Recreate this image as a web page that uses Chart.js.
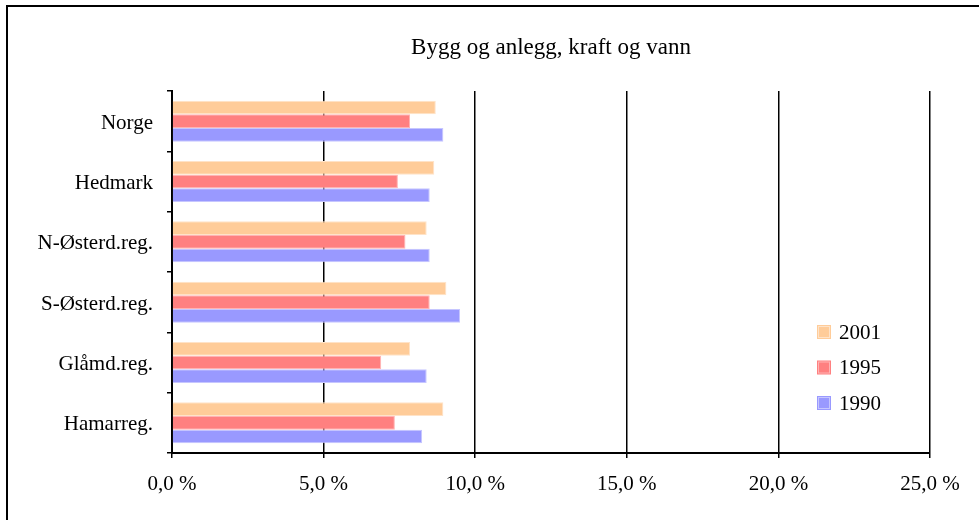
<!DOCTYPE html>
<html>
<head>
<meta charset="utf-8">
<script src="https://cdn.jsdelivr.net/npm/chart.js@4/dist/chart.umd.min.js"></script>
<style>
    html, body { margin: 0; padding: 0; background: #fff; overflow: hidden; }
    #frame {
        position: absolute; left: 6px; top: 5px;
        width: 1100px; height: 700px;
        border: 2px solid #000;
    }
    #chart { position: absolute; left: 0; top: 0; }
</style>
</head>
<body>
<div id="frame"></div>
<canvas id="chart" width="979" height="520"></canvas>
<script>
const title = "Bygg og anlegg, kraft og vann";
const regions = ["Norge", "Hedmark", "N-Østerd.reg.", "S-Østerd.reg.", "Glåmd.reg.", "Hamarreg."];
const values2001 = [8.7, 8.65, 8.4, 9.05, 7.85, 8.95];
const values1995 = [7.85, 7.45, 7.7, 8.5, 6.9, 7.35];
const values1990 = [8.95, 8.5, 8.5, 9.5, 8.4, 8.25];
const xTicks = [0, 5, 10, 15, 20, 25];

const serif = "'Liberation Serif', 'Times New Roman', serif";

const fmtPct = (v) => v.toFixed(1).replace(".", ",") + " %";

// title centred over the plot area, legend drawn inside it on the right
const extras = {
    id: "extras",
    afterDraw(chart) {
        const ctx = chart.ctx;
        const area = chart.chartArea;
        ctx.save();
        ctx.fillStyle = "#000";
        ctx.font = "23px " + serif;
        ctx.textAlign = "center";
        ctx.textBaseline = "middle";
        ctx.fillText(title, (area.left + area.right) / 2, 48);

        const x = 817;
        let y = 332;
        ctx.font = "21px " + serif;
        ctx.textAlign = "left";
        chart.data.datasets.forEach((ds) => {
            ctx.fillStyle = ds.backgroundColor;
            ctx.fillRect(x, y - 7, 14, 14);
            ctx.strokeStyle = ds.borderColor;
            ctx.lineWidth = 1;
            ctx.strokeRect(x + 1.5, y - 5.5, 11, 11);
            ctx.fillStyle = "#000";
            ctx.fillText(ds.label, x + 22, y + 1);
            y += 35.5;
        });
        ctx.restore();
    }
};

const makeSet = (label, data, fill, edge) => ({
    label: label,
    data: data,
    backgroundColor: fill,
    borderColor: edge,
    borderWidth: 1,
    categoryPercentage: 0.68,
    barPercentage: 1.0,
});

const ctx = document.getElementById("chart").getContext("2d");
new Chart(ctx, {
    type: "bar",
    data: {
        labels: regions,
        datasets: [
            makeSet("2001", values2001, "#FFCC99", "#FFE3C8"),
            makeSet("1995", values1995, "#FF8080", "#FFB3B3"),
            makeSet("1990", values1990, "#9999FF", "#C6C6FF"),
        ],
    },
    options: {
        indexAxis: "y",
        responsive: false,
        animation: false,
        layout: { padding: { left: 0, right: 49, top: 91, bottom: 0 } },
        plugins: {
            legend: { display: false },
            tooltip: { enabled: false },
            title: { display: false },
        },
        scales: {
            x: {
                min: 0,
                max: 25,
                afterFit: (scale) => { scale.height = 67; },
                afterBuildTicks: (scale) => { scale.ticks = xTicks.map((v) => ({ value: v })); },
                ticks: {
                    color: "#000",
                    font: { family: serif, size: 21 },
                    padding: 14,
                    maxRotation: 0,
                    callback: (v) => fmtPct(v),
                },
                grid: { color: "#000", lineWidth: 1.5, tickLength: 5 },
                border: { color: "#000", width: 2 },
            },
            y: {
                afterFit: (scale) => { scale.width = 172; },
                ticks: {
                    color: "#000",
                    font: { family: serif, size: 21 },
                    padding: 14,
                    labelOffset: 2,
                },
                grid: { color: "#000", lineWidth: 1.5, tickLength: 5, drawOnChartArea: false, offset: true },
                border: { color: "#000", width: 2 },
            },
        },
    },
    plugins: [extras],
});
</script>
</body>
</html>
